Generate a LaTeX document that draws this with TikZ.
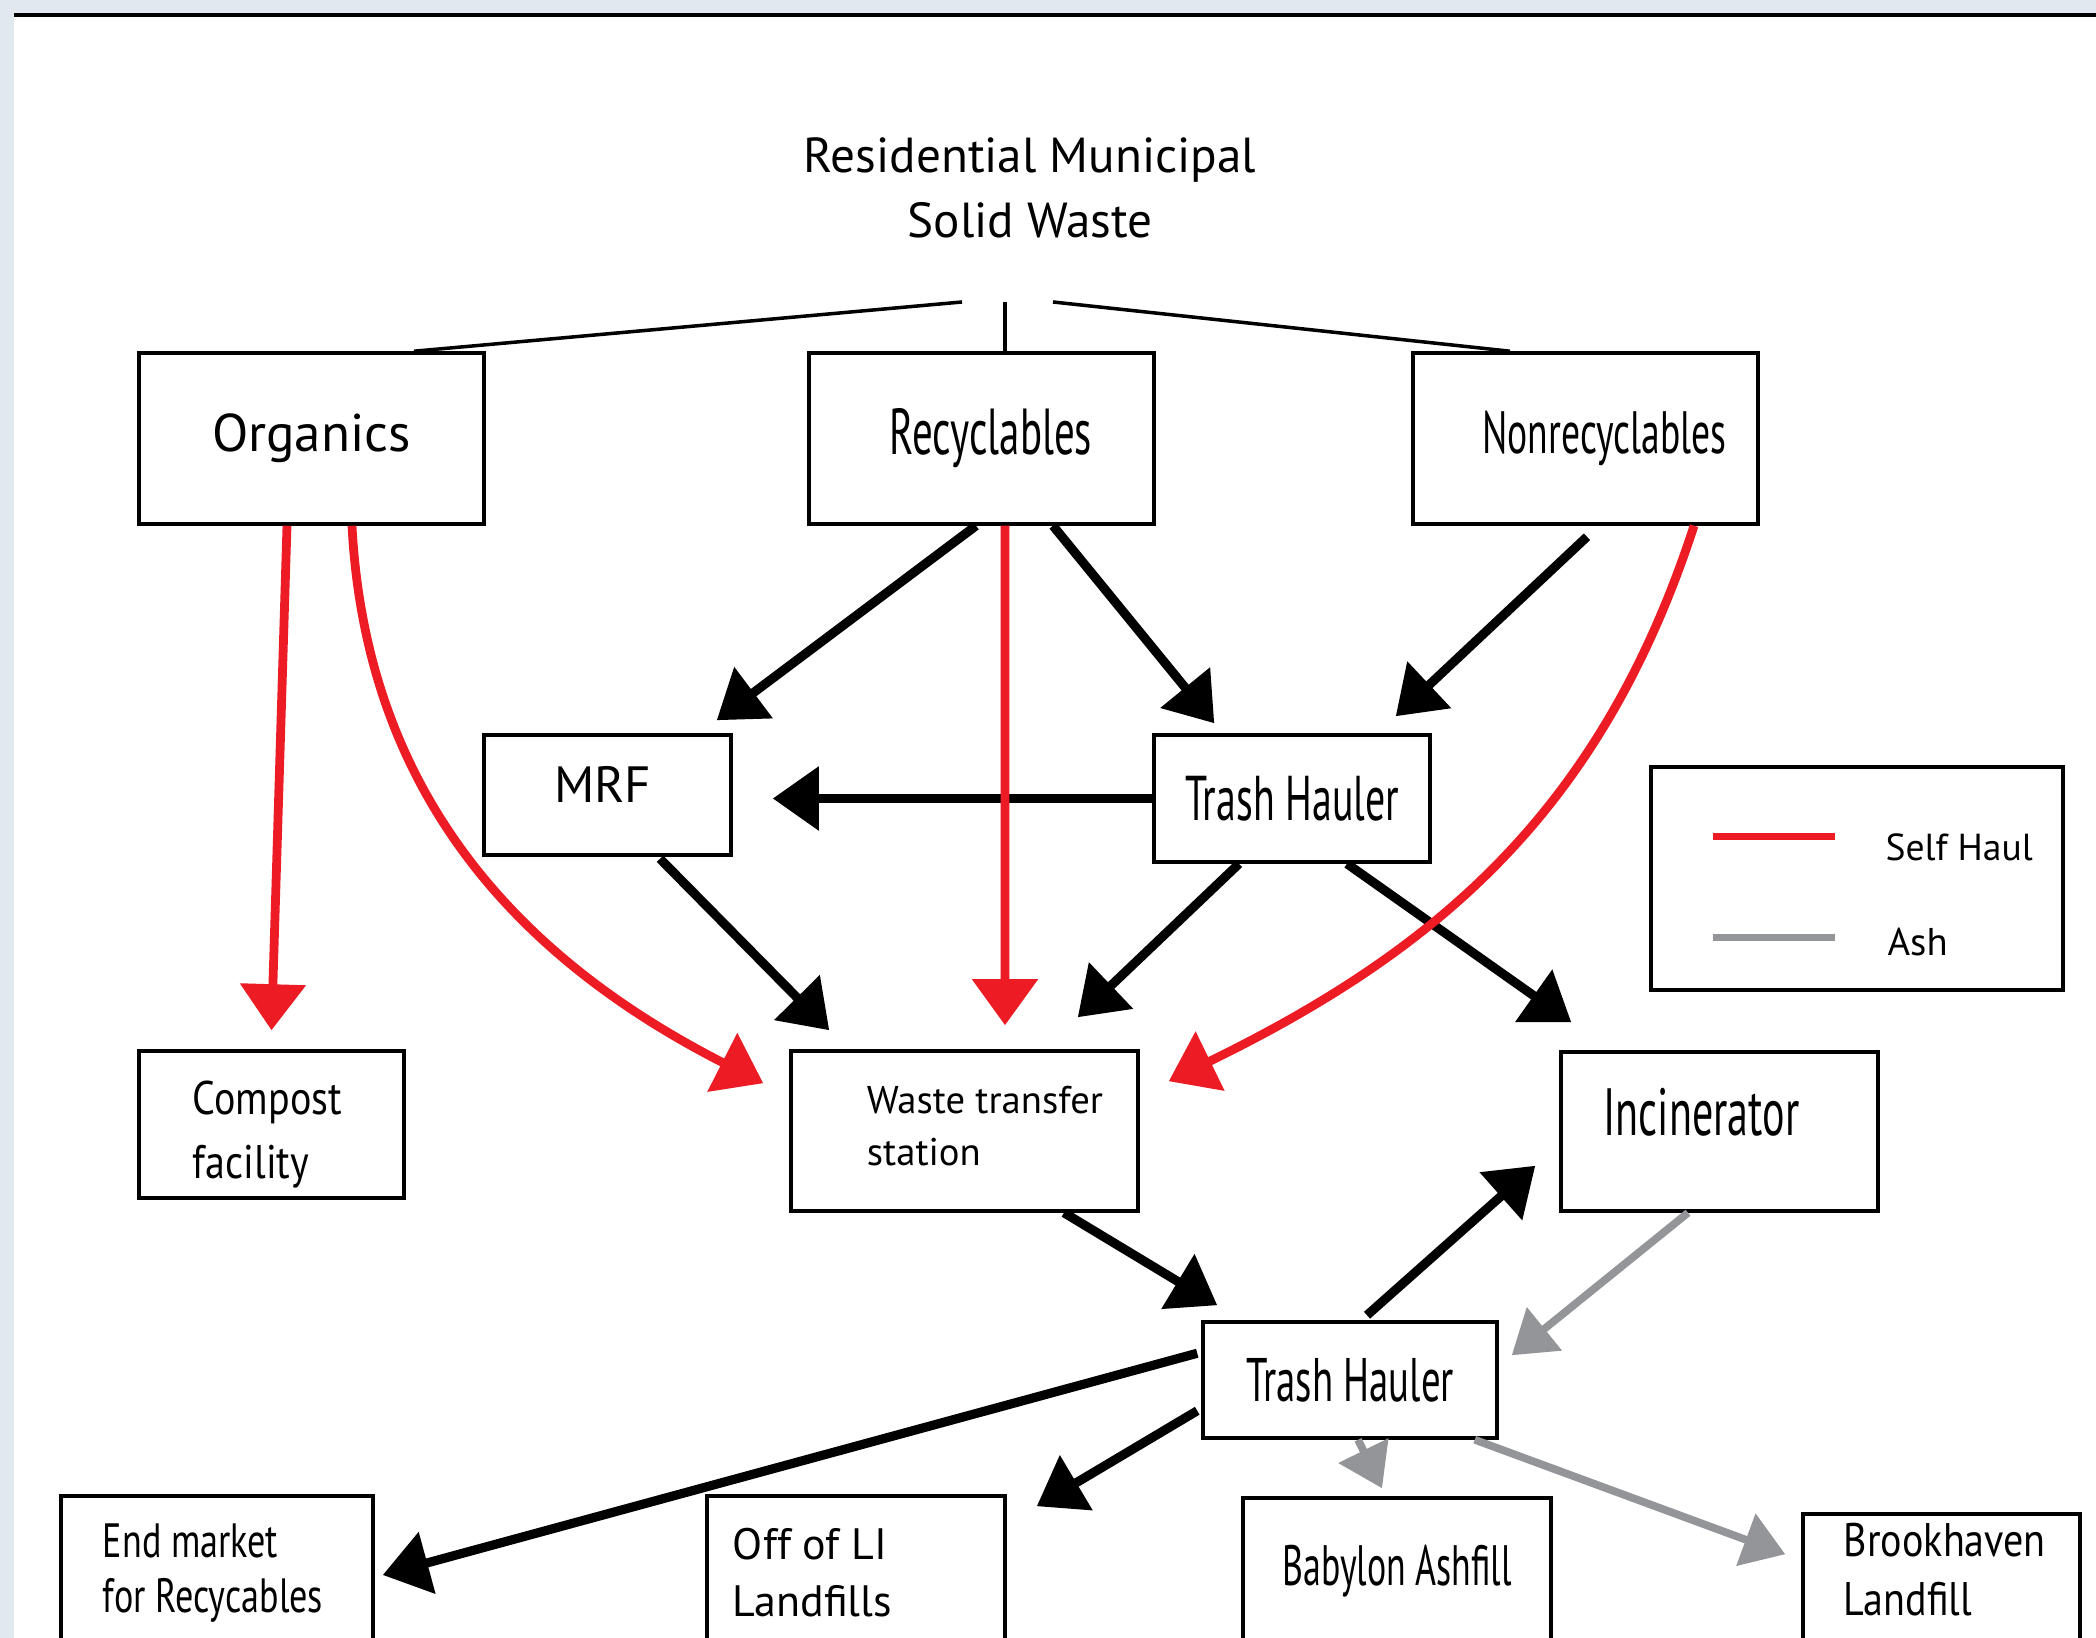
\documentclass[tikz,border=0pt]{standalone}
\usepackage{fontspec}
\setmainfont{PT Sans}
\newfontfamily\condA[FakeStretch=0.63]{PT Sans}
\newfontfamily\condB[FakeStretch=0.75]{PT Sans}
\newfontfamily\condC[FakeStretch=0.85]{PT Sans}
\usepackage{xcolor}
\usetikzlibrary{arrows, arrows.meta, positioning, calc}
\definecolor{haulred}{HTML}{ED1C24}
\definecolor{ashgray}{HTML}{939598}
\definecolor{pageblue}{HTML}{E1E8F0}
\newcommand{\fsz}[2]{\fontsize{#1}{#2}\selectfont}

\begin{document}
\begin{tikzpicture}
  \tikzstyle{box}=[draw, line width=1pt, inner sep=0pt]
  \tikzstyle{txt}=[inner sep=0pt, align=left]
  \tikzstyle{flow}=[line width=2.6pt, -{Triangle[length=4.6mm, width=6.2mm]}]
  \tikzstyle{selfhaul}=[line width=2.5pt, haulred, -{Triangle[length=4.6mm, width=6.4mm]}]
  \tikzstyle{ash}=[line width=2.2pt, ashgray, -{Triangle[length=4.2mm, width=5.4mm]}]

  % page
  \clip (0,0) rectangle (20.96,-16.38);
  \fill[pageblue] (0,0) rectangle (20.96,-16.38);
  \fill[white] (0.14,-0.15) rectangle (20.96,-16.38);
  \draw[line width=1.2pt] (0.14,-0.15) -- (20.96,-0.15);

  % title and the three streams
  \node (title) at (10.30,-1.88) [align=center, font=\fsz{14}{18.5}] {Residential Municipal\\Solid Waste};
  \coordinate (split) at (10.05,-3.02);

  \node[box, minimum width=3.45cm, minimum height=1.71cm, font=\fsz{15.1}{18}] (org) at (3.115,-4.385) {Organics};
  \node[box, minimum width=3.45cm, minimum height=1.71cm, font=\condA\fsz{18.5}{20}] (rec) at (9.815,-4.385) {\hspace*{1.9mm}Recyclables};
  \node[box, minimum width=3.45cm, minimum height=1.71cm, font=\condA\fsz{17}{20}] (nonrec) at (15.855,-4.385) {\hspace*{3.8mm}\raisebox{0.8mm}{Nonrecyclables}};

  \draw[line width=1pt] ([xshift=-4.3mm]split) -- ([xshift=10.25mm]org.north);
  \draw[line width=1pt] (split) -- (split |- rec.north);
  \draw[line width=1pt] ([xshift=4.8mm]split) -- ([xshift=-7.55mm]nonrec.north);

  % middle stage
  \node[box, minimum width=2.47cm, minimum height=1.2cm, font=\fsz{14.5}{16}] (mrf) at (6.075,-7.95) {\raisebox{2.1mm}{MRF}\hspace*{1mm}};
  \node[box, minimum width=2.76cm, minimum height=1.27cm, font=\condA\fsz{18}{20}] (th1) at (12.92,-7.985) {Trash Hauler};

  \node[box, minimum width=2.65cm, minimum height=1.47cm] (comp) at (2.715,-11.245) {};
  \node[txt, right=5.5mm of comp.west, yshift=-1mm, font=\condC\fsz{13.4}{18.2}] (comp-txt) {Compost\\facility};
  \node[box, minimum width=3.47cm, minimum height=1.6cm] (wts) at (9.645,-11.31) {};
  \node[txt, right=7.7mm of wts.west, yshift=0.5mm, font=\fsz{11}{15}] (wts-txt) {Waste transfer\\station};
  \node[box, minimum width=3.17cm, minimum height=1.59cm, font=\condA\fsz{19}{20}] (inc) at (17.195,-11.315) {\raisebox{3.9mm}{Incinerator}\hspace*{3.6mm}};
  \node[box, minimum width=2.94cm, minimum height=1.16cm, font=\condA\fsz{17.5}{20}] (th2) at (13.50,-13.80) {Trash Hauler};

  % end points
  \node[box, minimum width=3.12cm, minimum height=1.44cm] (endm) at (2.17,-15.68) {};
  \node[txt, right=4.3mm of endm.west, yshift=-0.5mm, font=\condB\fsz{13.7}{15.6}] (endm-txt) {End market\\for Recycables};
  \node[box, minimum width=2.98cm, minimum height=1.54cm] (offli) at (8.56,-15.73) {};
  \node[txt, right=2.7mm of offli.west, font=\fsz{12.5}{16.2}] (offli-txt) {Off of LI\\Landfills};
  \node[box, minimum width=3.08cm, minimum height=1.46cm, font=\condA\fsz{16.2}{18}] (baby) at (13.97,-15.71) {Babylon Ashfill};
  \node[box, minimum width=2.77cm, minimum height=1.32cm] (brook) at (19.415,-15.80) {};
  \node[txt, right=4.2mm of brook.west, yshift=1mm, font=\condC\fsz{13.4}{16.8}] (brook-txt) {Brookhaven\\Landfill};

  % legend
  \node[box, line width=1.2pt, minimum width=4.12cm, minimum height=2.23cm] (legend) at (18.57,-8.785) {};
  \draw[line width=2pt, haulred] ([shift={(0.64,-0.72)}]legend.north west) -- ++(1.22,0) coordinate (red-end);
  \node[txt, right=5mm of red-end, yshift=-1mm, font=\fsz{10.7}{13}] (self-lbl) {Self Haul};
  \draw[line width=2pt, ashgray] ([shift={(0.64,-1.73)}]legend.north west) -- ++(1.22,0) coordinate (ash-end);
  \node[txt, right=5.2mm of ash-end, yshift=-0.4mm, font=\fsz{11}{13}] (ash-lbl) {Ash};

  % black flows
  \draw[flow] ([xshift=-0.55mm]rec.south) -- ([shift={(-1.6mm,1.3mm)}]mrf.north east);
  \draw[flow] ([xshift=7.15mm]rec.south) -- ([shift={(6.2mm,1mm)}]th1.north west);
  \draw[flow] ([shift={(0.15mm,-1.1mm)}]nonrec.south) -- ([shift={(-3.6mm,1.7mm)}]th1.north east);
  \draw[flow] (th1.west) -- ([xshift=4mm]mrf.east |- th1.west);
  \draw[flow] ([shift={(5.25mm,-0.2mm)}]mrf.south) -- ([shift={(4mm,1.9mm)}]wts.north west);
  \draw[flow] ([xshift=-5.3mm]th1.south) -- ([shift={(-6.2mm,3.2mm)}]wts.north east);
  \draw[flow] ([xshift=5.5mm]th1.south) -- ([shift={(1.2mm,2.8mm)}]inc.north west);
  \draw[flow] ([xshift=9.95mm]wts.south) -- ([shift={(1.6mm,1.5mm)}]th2.north west);
  \draw[flow] ([shift={(1.7mm,0.5mm)}]th2.north) -- ([shift={(-2.4mm,4.7mm)}]inc.south west);
  \draw[flow] ([shift={(-0.4mm,-3.3mm)}]th2.north west) -- ([shift={(0.8mm,-0.7mm)}]endm.east);
  \draw[flow] ([shift={(-0.4mm,2.9mm)}]th2.south west) -- ([shift={(3mm,-1.2mm)}]offli.north east);

  % ash
  \draw[ash] ([xshift=-3.15mm]inc.south) -- ([shift={(1.3mm,-3.5mm)}]th2.north east);
  \draw[ash] ([xshift=0.8mm]th2.south) -- ([shift={(-1.5mm,0.8mm)}]baby.north);
  \draw[ash] ([xshift=-2.4mm]th2.south east) -- ([shift={(-1.6mm,-4.2mm)}]brook.north west);

  % self haul
  \draw[selfhaul] ([xshift=2.35mm]rec.south) -- ([shift={(4.05mm,2.4mm)}]wts.north);
  \draw[selfhaul] ([xshift=10.85mm]nonrec.south) to[out=-108, in=26] ([shift={(2.9mm,-3.2mm)}]wts.north east);
  \draw[selfhaul] ([xshift=-2.45mm]org.south) -- ([yshift=1.9mm]comp.north);
  \draw[selfhaul] ([xshift=4.05mm]org.south) to[out=-87, in=153] ([shift={(-2.6mm,-3.4mm)}]wts.north west);
\end{tikzpicture}
\end{document}
